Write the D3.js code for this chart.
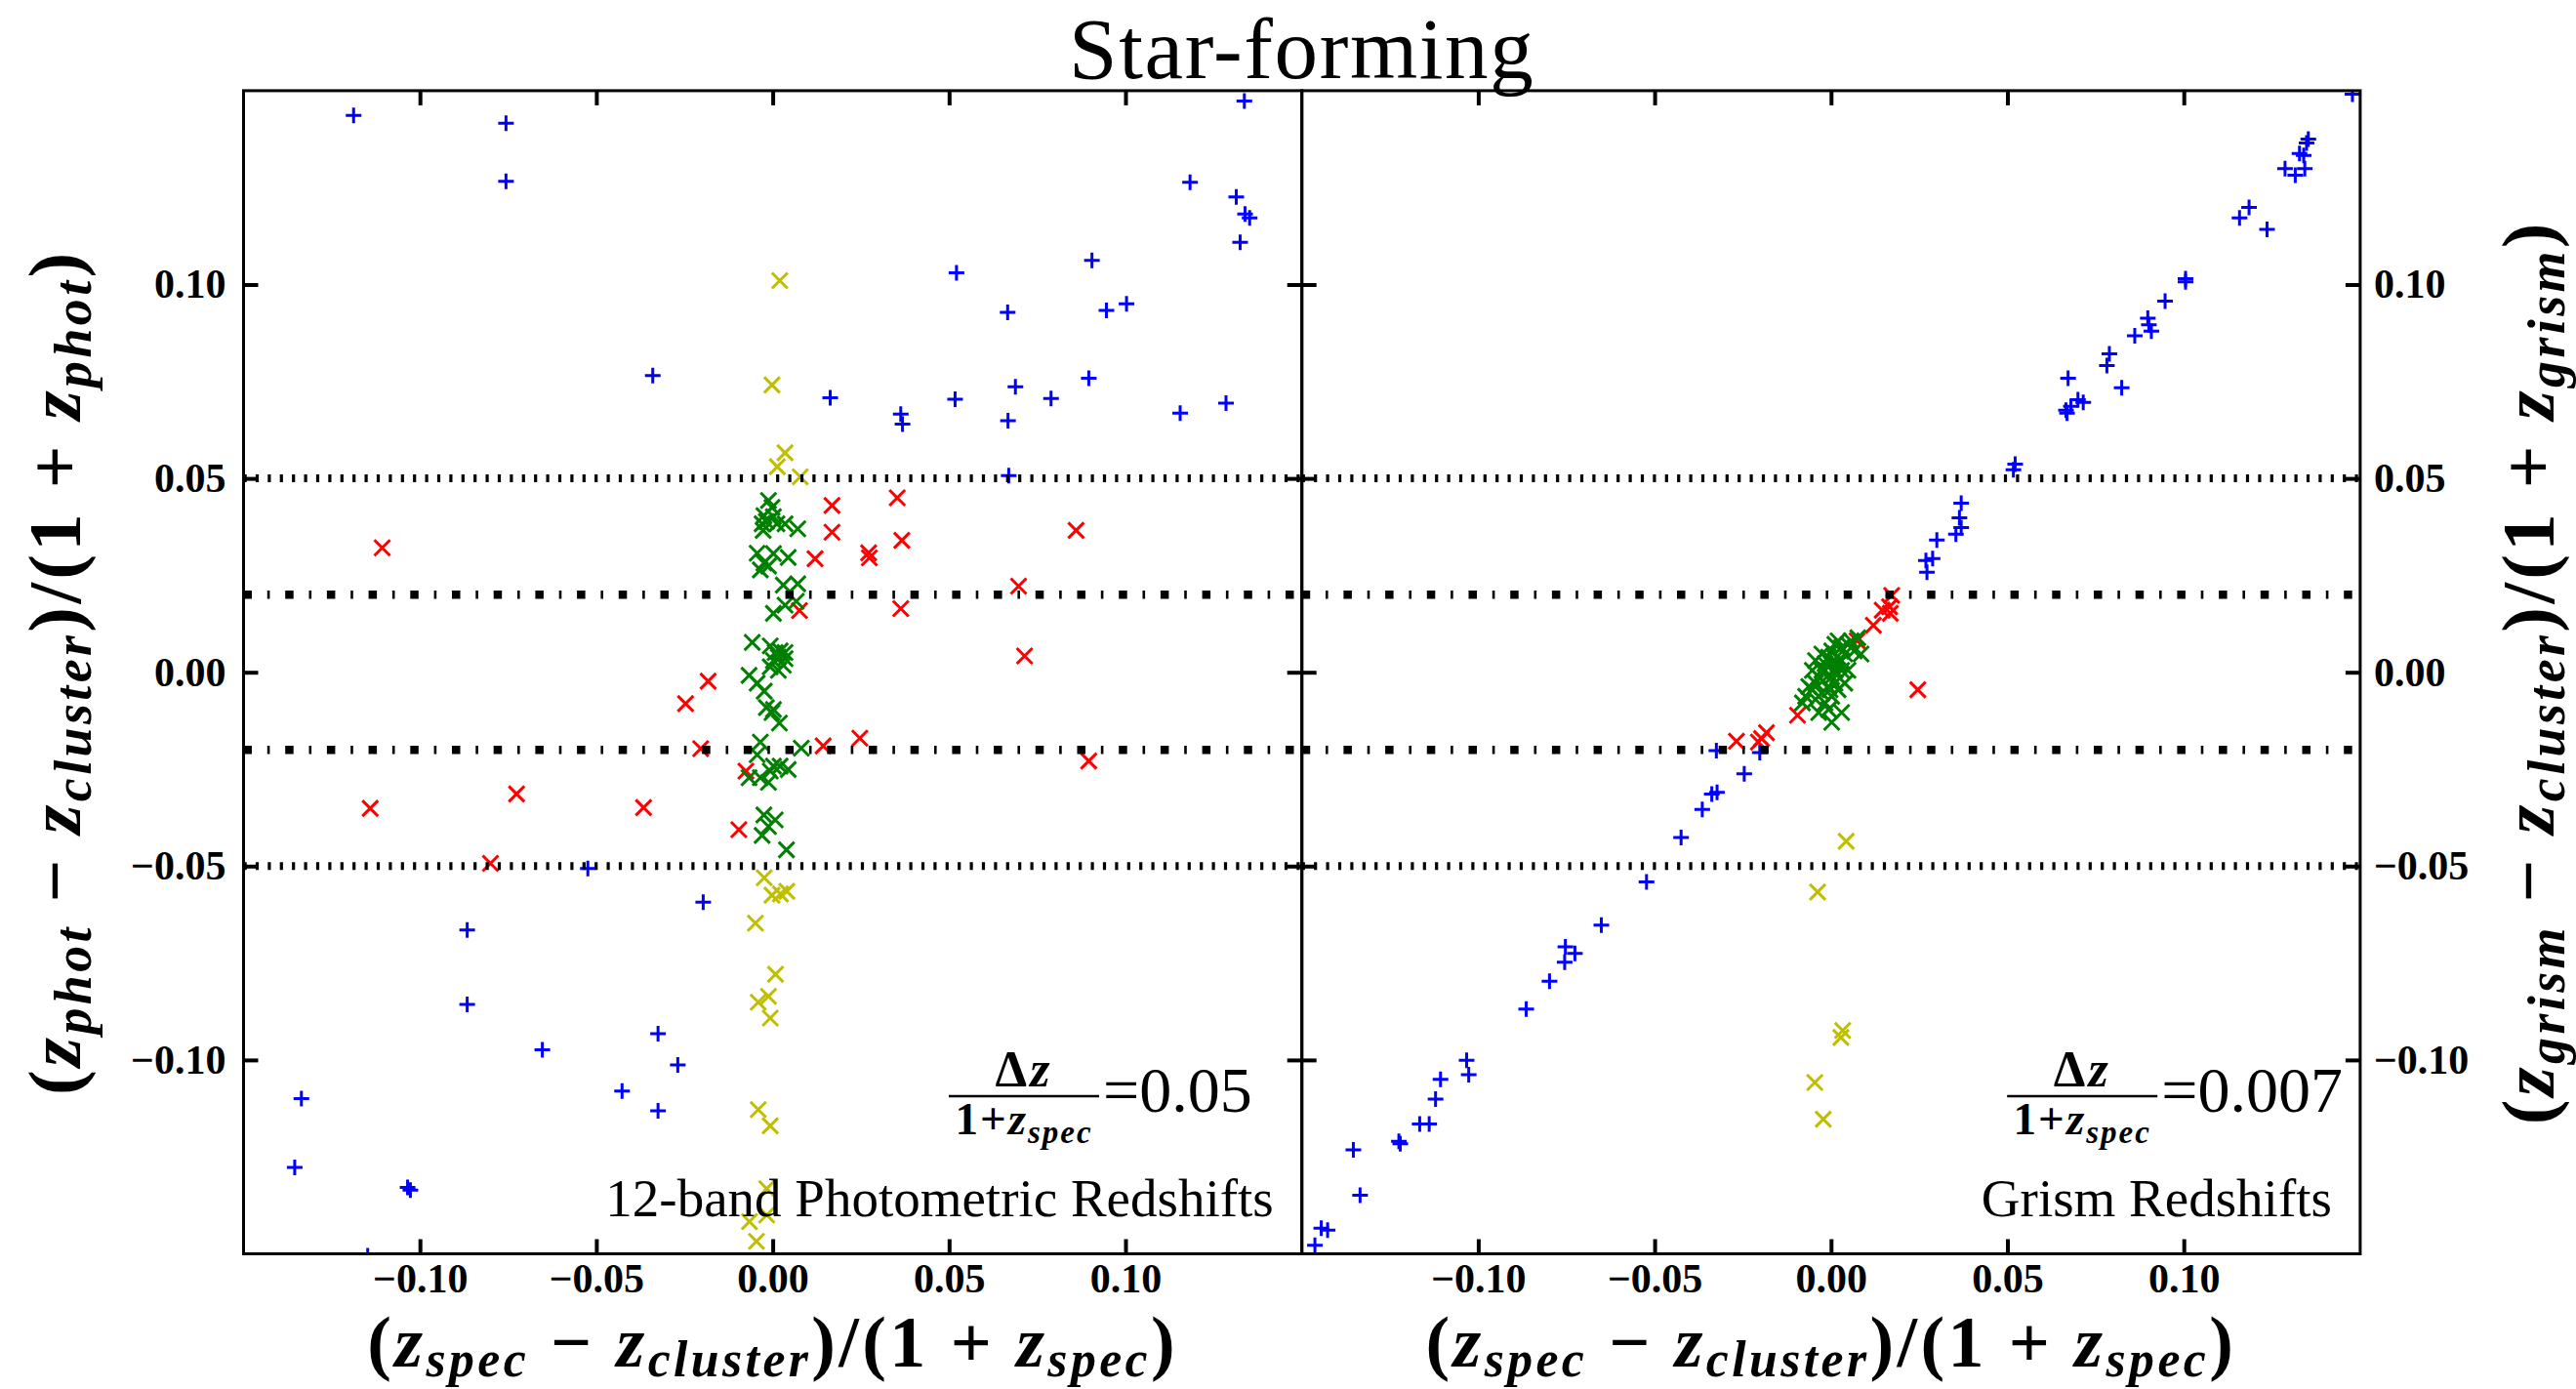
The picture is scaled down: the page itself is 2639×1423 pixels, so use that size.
<!DOCTYPE html>
<html>
<head>
<meta charset="utf-8">
<script src="https://cdn.jsdelivr.net/npm/d3@7"></script>
<style>
  html, body { margin: 0; padding: 0; background: #fff; }
  svg { display: block; }
</style>
</head>
<body>
<svg id="chart" width="2639" height="1423"></svg>
<script>
// ---------------------------------------------------------------------------
// Data: (z_spec - z_cluster)/(1 + z_spec) on x, photometric / grism offsets on y
// ---------------------------------------------------------------------------

// Photometric panel
const leftBlue = [
  [-0.1188, 0.1436], [-0.0756, 0.1416], [-0.0756, 0.1266], [-0.0340, 0.0765],
  [0.1337, 0.1473], [0.1183, 0.1264], [0.1314, 0.1226], [0.1339, 0.1182], [0.1352, 0.1172], [0.1325, 0.1109],
  [0.0905, 0.1062], [0.0521, 0.1030], [0.0666, 0.0928], [0.0946, 0.0933], [0.1003, 0.0950],
  [0.0163, 0.0708], [0.0363, 0.0666], [0.0368, 0.0640], [0.0517, 0.0704], [0.0688, 0.0736], [0.0667, 0.0649],
  [0.0789, 0.0706], [0.0896, 0.0758], [0.1155, 0.0668], [0.1285, 0.0694], [0.0669, 0.0507],
  [-0.0524, -0.0506], [-0.0197, -0.0593], [-0.0866, -0.0665], [-0.0866, -0.0857], [-0.0653, -0.0974],
  [-0.0325, -0.0932], [-0.0269, -0.1013], [-0.0427, -0.1080], [-0.0325, -0.1131], [-0.1336, -0.1100],
  [-0.1355, -0.1277], [-0.1035, -0.1329], [-0.1027, -0.1336], [-0.1148, -0.1505]
];
const leftRed = [
  [-0.1107, 0.0321], [0.0353, 0.0450], [0.0168, 0.0430], [0.0168, 0.0361], [0.0860, 0.0366],
  [0.0366, 0.0340], [0.0272, 0.0308], [0.0274, 0.0295], [0.0120, 0.0293], [0.0697, 0.0222],
  [0.0076, 0.0159], [0.0363, 0.0164], [0.0714, 0.0042], [-0.0183, -0.0023], [-0.0247, -0.0081],
  [-0.0204, -0.0197], [-0.0076, -0.0255], [-0.1141, -0.0351], [-0.0726, -0.0314], [-0.0366, -0.0349],
  [-0.0096, -0.0406], [-0.0800, -0.0493], [0.0143, -0.0190], [0.0247, -0.0170], [0.0896, -0.0229]
];
const leftGreen = [
  [-0.0012, 0.0443], [-0.0002, 0.0425], [-0.0025, 0.0404], [0.0002, 0.0401], [-0.0018, 0.0389],
  [-0.0030, 0.0383], [0.0012, 0.0383], [0.0035, 0.0383], [-0.0027, 0.0366], [0.0071, 0.0370],
  [-0.0044, 0.0307], [0.0002, 0.0306], [0.0044, 0.0296], [-0.0025, 0.0282], [-0.0035, 0.0264],
  [-0.0012, 0.0274], [0.0030, 0.0225], [0.0071, 0.0228], [0.0067, 0.0183], [0.0035, 0.0173],
  [0.0002, 0.0152], [-0.0058, 0.0077], [-0.0007, 0.0068], [0.0007, 0.0051], [0.0035, 0.0051],
  [0.0016, 0.0039], [0.0021, 0.0055], [0.0035, 0.0035], [0.0002, 0.0030], [-0.0007, 0.0014],
  [0.0016, 0.0005], [0.0030, 0.0018], [-0.0067, -0.0008], [-0.0044, -0.0028], [-0.0024, -0.0049],
  [-0.0018, -0.0091], [0.0002, -0.0096], [-0.0002, -0.0104], [0.0019, -0.0131], [-0.0035, -0.0180],
  [0.0081, -0.0196], [-0.0044, -0.0213], [0.0002, -0.0242], [0.0021, -0.0242], [0.0044, -0.0251],
  [-0.0007, -0.0255], [-0.0067, -0.0272], [-0.0035, -0.0272], [-0.0012, -0.0284], [-0.0025, -0.0368],
  [0.0007, -0.0381], [-0.0012, -0.0398], [-0.0030, -0.0421], [0.0039, -0.0458]
];
const leftYellow = [
  [0.0020, 0.1010], [-0.0002, 0.0741], [0.0035, 0.0566], [0.0013, 0.0530], [0.0078, 0.0504],
  [-0.0024, -0.0530], [-0.0002, -0.0575], [0.0040, -0.0565], [0.0022, -0.0572],
  [-0.0049, -0.0647], [0.0008, -0.0779], [-0.0041, -0.0851], [-0.0012, -0.0836], [-0.0007, -0.0892],
  [-0.0041, -0.1128], [-0.0007, -0.1170], [-0.0017, -0.1332], [-0.0066, -0.1417], [-0.0017, -0.1400],
  [-0.0046, -0.1468]
];

// Grism panel
const rightBlue = [
  [0.1478, 0.1491], [0.1353, 0.1375], [0.1348, 0.1365], [0.1328, 0.1338], [0.1340, 0.1333],
  [0.1287, 0.1299], [0.1343, 0.1299], [0.1316, 0.1282], [0.1158, 0.1172], [0.1185, 0.1199],
  [0.1236, 0.1142], [0.1005, 0.1015], [0.1005, 0.1007], [0.0947, 0.0957], [0.0898, 0.0913],
  [0.0901, 0.0896], [0.0908, 0.0880], [0.0861, 0.0868], [0.0789, 0.0821], [0.0782, 0.0791],
  [0.0824, 0.0734], [0.0672, 0.0758], [0.0700, 0.0703], [0.0715, 0.0696], [0.0680, 0.0686],
  [0.0666, 0.0676], [0.0669, 0.0668], [0.0522, 0.0537], [0.0517, 0.0522], [0.0369, 0.0436],
  [0.0364, 0.0398], [0.0369, 0.0373], [0.0354, 0.0356], [0.0300, 0.0341], [0.0288, 0.0293],
  [0.0269, 0.0288], [0.0272, 0.0258],
  [-0.0325, -0.0202], [-0.0202, -0.0207], [-0.0246, -0.0262], [-0.0338, -0.0314], [-0.0323, -0.0310],
  [-0.0365, -0.0354], [-0.0425, -0.0426], [-0.0523, -0.0541], [-0.0651, -0.0652], [-0.0753, -0.0708],
  [-0.0726, -0.0725], [-0.0755, -0.0748], [-0.0798, -0.0797], [-0.0864, -0.0869], [-0.1033, -0.1001],
  [-0.1027, -0.1038], [-0.1107, -0.1050], [-0.1121, -0.1101], [-0.1166, -0.1165], [-0.1139, -0.1165],
  [-0.1225, -0.1210], [-0.1221, -0.1216], [-0.1354, -0.1232], [-0.1335, -0.1349], [-0.1445, -0.1434],
  [-0.1427, -0.1439], [-0.1463, -0.1478]
];
const rightRed = [
  [0.0172, 0.0198], [0.0145, 0.0160], [0.0168, 0.0152], [0.0166, 0.0169], [0.0120, 0.0121],
  [0.0074, 0.0081], [0.0246, -0.0045], [-0.0095, -0.0111], [-0.0183, -0.0156], [-0.0197, -0.0171],
  [-0.0206, -0.0180], [-0.0268, -0.0178]
];
const rightGreen = [
  [-0.0072, -0.0062], [-0.0053, -0.0045], [-0.0044, -0.0028], [-0.0035, -0.0012], [-0.0026, 0.0005],
  [-0.0017, 0.0022], [-0.0007, 0.0039], [0.0002, 0.0055], [0.0011, 0.0072], [0.0020, 0.0081],
  [0.0030, 0.0064], [0.0039, 0.0047], [0.0048, 0.0072], [0.0057, 0.0081], [0.0076, 0.0089],
  [0.0066, 0.0055], [0.0085, 0.0047], [-0.0044, 0.0030], [-0.0053, 0.0005], [-0.0063, -0.0037],
  [-0.0044, -0.0070], [-0.0026, -0.0054], [-0.0007, -0.0037], [0.0002, -0.0012], [0.0011, 0.0005],
  [0.0020, 0.0022], [0.0030, 0.0030], [0.0011, -0.0028], [0.0039, -0.0028], [-0.0017, -0.0079],
  [0.0002, -0.0062], [0.0020, -0.0045], [-0.0035, -0.0104], [0.0002, -0.0129], [0.0030, -0.0104],
  [-0.0007, -0.0096], [-0.0081, -0.0079], [-0.0026, 0.0047], [0.0002, 0.0022], [0.0030, 0.0005],
  [0.0048, 0.0005], [-0.0012, -0.0012], [-0.0003, -0.0045], [0.0016, 0.0039]
];
const rightYellow = [
  [-0.0038, -0.0567], [-0.0046, -0.1058], [-0.0022, -0.1153], [0.0043, -0.0436],
  [0.0033, -0.0924], [0.0028, -0.0942]
];

// Axis ticks and reference levels
const tickValues = [-0.10, -0.05, 0.00, 0.05, 0.10];
const tickLabels = ["\u22120.10", "\u22120.05", "0.00", "0.05", "0.10"];
const dottedLevels = [0.05, -0.05];
const dashDotLevels = [0.02, -0.02];

// Panel texts
const chartTitle = "Star-forming";
const panelCaptions = ["12-band Photometric Redshifts", "Grism Redshifts"];
const scatterValues = ["0.05", "0.007"];
const ySubscripts = ["phot", "grism"];

// ---------------------------------------------------------------------------
// Layout
// ---------------------------------------------------------------------------
const W = 2639, H = 1423;
const SERIF = '"Liberation Serif", "DejaVu Serif", serif';
const axisDomain = [-0.15, 0.15];
const plotTop = 92.9, plotBottom = 1284.5;
const panelWidth = 1084.2;
const panels = [
  { left: 249.5, blue: leftBlue, red: leftRed, green: leftGreen, yellow: leftYellow },
  { left: 1333.7, blue: rightBlue, red: rightRed, green: rightGreen, yellow: rightYellow }
];

const svg = d3.select("#chart");
svg.append("rect").attr("width", W).attr("height", H).attr("fill", "#fff");

const PLUS = "M-8,0H8M0,-8V8";
const CROSS = "M-8,-8L8,8M-8,8L8,-8";
const fmt = v => tickLabels[tickValues.indexOf(v)];
const noLabel = () => "";

function styleAxis(sel) {
  sel.select(".domain").remove();
  sel.selectAll(".tick line").attr("stroke", "#000").attr("stroke-width", 4);
  sel.selectAll(".tick text")
    .attr("fill", "#000")
    .attr("font-family", SERIF)
    .attr("font-weight", "bold")
    .attr("font-size", 42);
}

// Builds a TeX-like label from [text, kind] pieces: r = upright, v = italic variable, sub = subscript
function mathLabel(parent, parts, size) {
  const t = parent.append("text")
    .attr("text-anchor", "middle")
    .attr("font-family", SERIF)
    .attr("font-weight", "bold")
    .attr("font-size", size)
    .attr("letter-spacing", 3.4)
    .attr("fill", "#000");
  const shift = size * 0.14;
  let lowered = false;
  parts.forEach(([s, kind]) => {
    const ts = t.append("tspan").text(s);
    if (kind === "v" || kind === "sub") ts.attr("font-style", "italic");
    if (kind === "sub") {
      ts.attr("font-size", size * 0.7);
      if (!lowered) { ts.attr("dy", shift); lowered = true; }
    } else if (lowered) {
      ts.attr("dy", -shift); lowered = false;
    }
  });
  return t;
}

function fractionParts(sub) {
  const sp = "\u00a0";
  return [["(", "r"], ["z", "v"], [sub, "sub"], [sp + "\u2212" + sp, "r"], ["z", "v"], ["cluster", "sub"],
          [")/(1" + sp + "+" + sp, "r"], ["z", "v"], [sub, "sub"], [")", "r"]];
}

panels.forEach((p, i) => {
  const x = d3.scaleLinear().domain(axisDomain).range([p.left, p.left + panelWidth]);
  const y = d3.scaleLinear().domain(axisDomain).range([plotBottom, plotTop]);

  const clipId = "panel-clip-" + i;
  svg.append("clipPath").attr("id", clipId)
    .append("rect")
    .attr("x", p.left).attr("y", plotTop)
    .attr("width", panelWidth).attr("height", plotBottom - plotTop);

  const plot = svg.append("g").attr("clip-path", `url(#${clipId})`);

  // scatter groups
  const groups = [
    [p.blue, "#0000ff", PLUS],
    [p.red, "#ff0000", CROSS],
    [p.yellow, "#bfbf00", CROSS],
    [p.green, "#008000", CROSS]
  ];
  groups.forEach(([data, color, shape]) => {
    plot.append("g").selectAll("path")
      .data(data)
      .join("path")
      .attr("d", shape)
      .attr("transform", d => `translate(${x(d[0])},${y(d[1])})`)
      .attr("fill", "none")
      .attr("stroke", color)
      .attr("stroke-width", 3);
  });

  // reference levels
  plot.append("g").selectAll("line")
    .data(dottedLevels)
    .join("line")
    .attr("x1", p.left).attr("x2", p.left + panelWidth)
    .attr("y1", d => y(d)).attr("y2", d => y(d))
    .attr("stroke", "#000")
    .attr("stroke-width", 8)
    .attr("stroke-dasharray", "3.2 9.2");
  plot.append("g").selectAll("line")
    .data(dashDotLevels)
    .join("line")
    .attr("x1", p.left).attr("x2", p.left + panelWidth)
    .attr("y1", d => y(d)).attr("y2", d => y(d))
    .attr("stroke", "#000")
    .attr("stroke-width", 8.5)
    .attr("stroke-dasharray", "8.5 15.8 2.6 15.8");

  // axes (inward ticks on all four sides)
  svg.append("g").attr("transform", `translate(0,${plotBottom})`)
    .call(d3.axisBottom(x).tickValues(tickValues).tickSize(-15).tickPadding(10).tickFormat(fmt))
    .call(styleAxis);
  svg.append("g").attr("transform", `translate(0,${plotTop})`)
    .call(d3.axisTop(x).tickValues(tickValues).tickSize(-15).tickFormat(noLabel))
    .call(styleAxis);
  svg.append("g").attr("transform", `translate(${p.left},0)`)
    .call(d3.axisLeft(y).tickValues(tickValues).tickSize(-15).tickPadding(18).tickFormat(i === 0 ? fmt : noLabel))
    .call(styleAxis);
  svg.append("g").attr("transform", `translate(${p.left + panelWidth},0)`)
    .call(d3.axisRight(y).tickValues(tickValues).tickSize(-15).tickPadding(14).tickFormat(i === 1 ? fmt : noLabel))
    .call(styleAxis);

  // frame
  svg.append("rect")
    .attr("x", p.left).attr("y", plotTop)
    .attr("width", panelWidth).attr("height", plotBottom - plotTop)
    .attr("fill", "none").attr("stroke", "#000").attr("stroke-width", 3);

  // scatter annotation: Δz / (1 + z_spec) = value
  const ax = p.left + 722.5;
  svg.append("line")
    .attr("x1", ax).attr("x2", ax + 154)
    .attr("y1", 1123).attr("y2", 1123)
    .attr("stroke", "#000").attr("stroke-width", 2.5);
  const num = svg.append("text")
    .attr("x", ax + 77).attr("y", 1113)
    .attr("text-anchor", "middle")
    .attr("font-family", SERIF).attr("font-weight", "bold").attr("font-size", 52)
    .attr("letter-spacing", 3);
  num.append("tspan").text("\u0394");
  num.append("tspan").attr("font-style", "italic").text("z");
  const den = svg.append("text")
    .attr("x", ax + 77).attr("y", 1162)
    .attr("text-anchor", "middle")
    .attr("font-family", SERIF).attr("font-weight", "bold").attr("font-size", 47)
    .attr("letter-spacing", 2);
  den.append("tspan").text("1+");
  den.append("tspan").attr("font-style", "italic").text("z");
  den.append("tspan").attr("font-style", "italic").attr("font-size", 33).attr("dy", 9).text("spec");
  svg.append("text")
    .attr("x", ax + 158).attr("y", 1139)
    .attr("font-family", SERIF).attr("font-size", 66)
    .text("=" + scatterValues[i]);

  // panel caption
  svg.append("text")
    .attr("x", p.left + panelWidth - 29).attr("y", 1246)
    .attr("text-anchor", "end")
    .attr("font-family", SERIF).attr("font-size", 55)
    .text(panelCaptions[i]);

  // x-axis label
  mathLabel(svg.append("g").attr("transform", `translate(${p.left + panelWidth / 2},1400)`),
            fractionParts("spec"), 74);
});

// y-axis labels (both read bottom to top)
mathLabel(svg.append("g").attr("transform", `translate(82,${(plotTop + plotBottom) / 2}) rotate(-90)`),
          fractionParts(ySubscripts[0]), 77);
mathLabel(svg.append("g").attr("transform", `translate(2616,${(plotTop + plotBottom) / 2}) rotate(-90)`),
          fractionParts(ySubscripts[1]), 77);

// title
svg.append("text")
  .attr("x", panels[1].left).attr("y", 80)
  .attr("text-anchor", "middle")
  .attr("font-family", SERIF).attr("font-size", 89)
  .attr("letter-spacing", 1.6)
  .text(chartTitle);
</script>
</body>
</html>
